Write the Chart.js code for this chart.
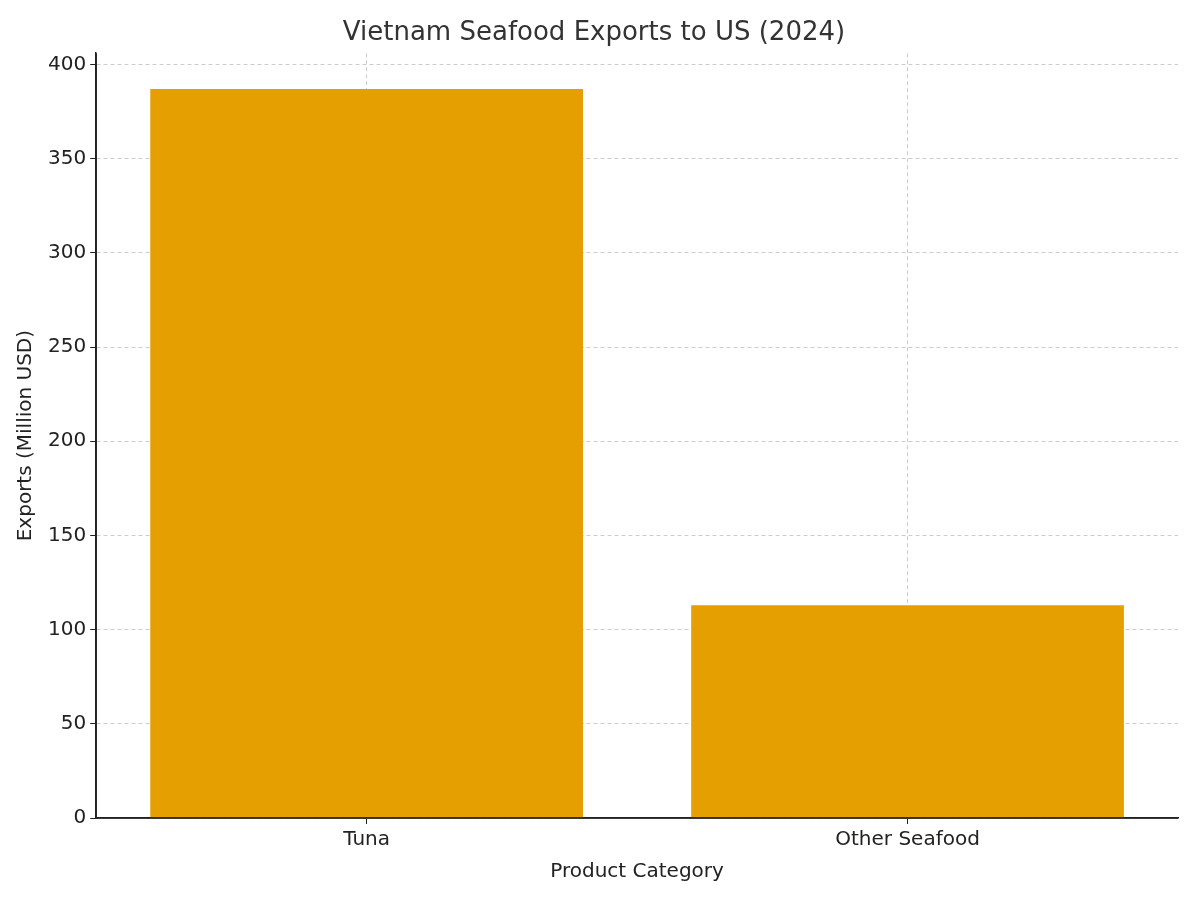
<!DOCTYPE html>
<html>
<head>
<meta charset="utf-8">
<script src="https://cdn.jsdelivr.net/npm/chart.js@4"></script>
<style>
  body { margin: 0; background: #fff; }
</style>
</head>
<body>
<canvas id="chart" width="1200" height="900"></canvas>
<script>
const categories = ["Tuna", "Other Seafood"];
const exportsMillionUsd = [387, 113];
const yTicks = [0, 50, 100, 150, 200, 250, 300, 350, 400];

const gridStyle = {
  color: "rgba(0,0,0,0.2)",
  lineWidth: 1,
  drawTicks: true,
  tickLength: 6,
  tickColor: "#222",
};

new Chart(document.getElementById("chart"), {
  type: "bar",
  data: {
    labels: categories,
    datasets: [
      {
        label: "Exports",
        data: exportsMillionUsd,
        backgroundColor: "#e69f00",
        barPercentage: 0.8,
        categoryPercentage: 1,
      },
    ],
  },
  options: {
    responsive: false,
    animation: false,
    devicePixelRatio: 1,
    layout: { padding: { top: 8, right: 22, left: 10, bottom: 12 } },
    plugins: {
      legend: { display: false },
      title: {
        display: true,
        text: "Vietnam Seafood Exports to US (2024)",
        color: "#333",
        font: { family: "DejaVu Sans", size: 26, weight: "normal" },
        padding: { top: 10, bottom: 4 },
      },
    },
    scales: {
      x: {
        grid: { ...gridStyle, offset: false },
        border: { display: true, color: "#222", width: 1.5, dash: [4, 3] },
        ticks: { color: "#222", font: { family: "DejaVu Sans", size: 20 }, padding: 4 },
        title: {
          display: true,
          text: "Product Category",
          color: "#222",
          font: { family: "DejaVu Sans", size: 20 },
          padding: { top: 4 },
        },
      },
      y: {
        min: 0,
        max: 406,
        afterBuildTicks: (axis) => {
          axis.ticks = yTicks.map((v) => ({ value: v }));
        },
        grid: gridStyle,
        border: { display: true, color: "#222", width: 1.5, dash: [4, 3] },
        ticks: { color: "#222", font: { family: "DejaVu Sans", size: 20 }, padding: 4 },
        title: {
          display: true,
          text: "Exports (Million USD)",
          color: "#222",
          font: { family: "DejaVu Sans", size: 20 },
          padding: { bottom: 6 },
        },
      },
    },
  },
  plugins: [
    {
      id: "solidAxes",
      afterDraw(chart) {
        const { ctx, chartArea: a } = chart;
        ctx.save();
        ctx.strokeStyle = "#222";
        ctx.lineWidth = 1.5;
        ctx.setLineDash([]);
        ctx.beginPath();
        ctx.moveTo(a.left, a.top);
        ctx.lineTo(a.left, a.bottom);
        ctx.lineTo(a.right, a.bottom);
        ctx.stroke();
        ctx.restore();
      },
    },
  ],
});
</script>
</body>
</html>
